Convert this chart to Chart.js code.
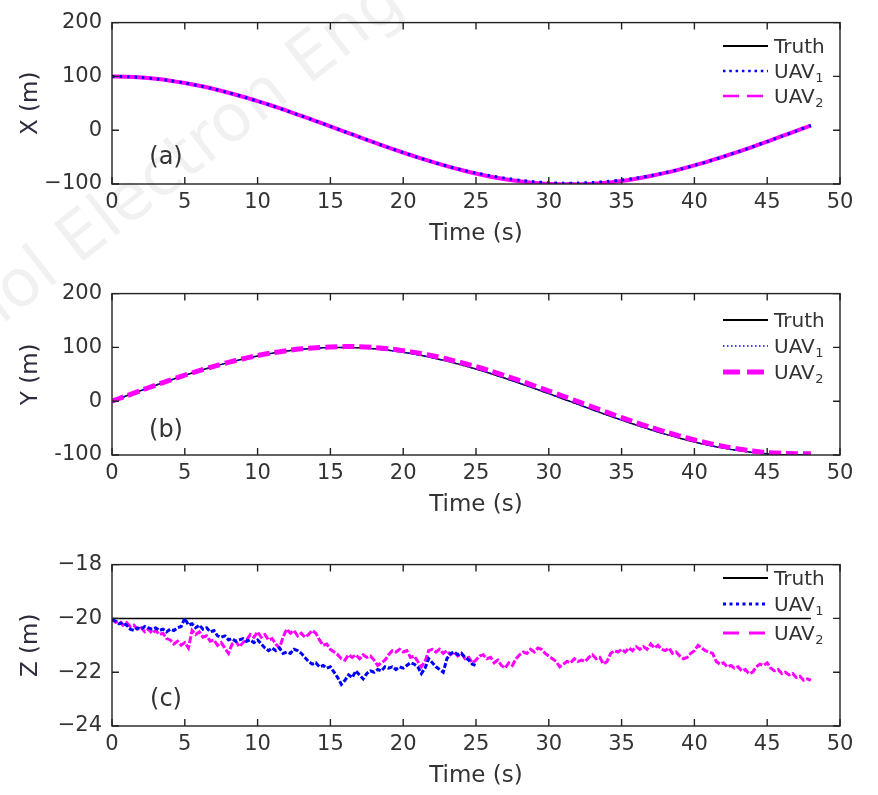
<!DOCTYPE html>
<html>
<head>
<meta charset="utf-8">
<script src="https://cdn.jsdelivr.net/npm/chart.js@4.4.1/dist/chart.umd.min.js"></script>
<style>
  html,body{margin:0;padding:0;background:#fff;overflow:hidden;}
  #wrap{position:relative;width:878px;height:795px;overflow:hidden;}
  canvas{position:absolute;left:0;}
  #wm{position:absolute;left:-55px;top:292px;font-family:"DejaVu Sans";font-size:66px;color:rgba(0,0,0,0.055);
      transform-origin:0 0;transform:rotate(-38deg);white-space:nowrap;}
</style>
</head>
<body>
<div id="wrap">
  <div id="wm">nol Electron Eng</div>
  <canvas id="ca" width="878" height="272" style="top:0px"></canvas>
  <canvas id="cb" width="878" height="272" style="top:271px"></canvas>
  <canvas id="cc" width="878" height="272" style="top:542px"></canvas>
</div>
<script>
// ---------------- data ----------------
const T = [0,1,2,3,4,5,6,7,8,9,10,11,12,13,14,15,16,17,18,19,20,21,22,23,24,25,26,27,28,29,30,31,32,33,34,35,36,37,38,39,40,41,42,43,44,45,46,47,48];

const xTruth = [100,99.5,98.0,95.5,92.1,87.8,82.5,76.5,69.7,62.2,54.0,45.4,36.2,26.7,17.0,7.1,-2.9,-12.9,-22.7,-32.4,-41.6,-50.5,-58.9,-66.6,-73.7,-80.1,-85.7,-90.4,-94.2,-97.1,-99.0,-99.9,-99.8,-98.7,-96.7,-93.6,-89.7,-84.8,-79.1,-72.6,-65.4,-57.6,-49.0,-40.1,-30.8,-21.1,-11.2,-1.2,8.7];
const xUav1  = [100,99.5,98.0,95.5,92.1,87.8,82.5,76.5,69.7,62.2,54.0,45.4,36.2,26.7,17.0,7.1,-2.9,-12.9,-22.7,-32.4,-41.6,-50.5,-58.9,-66.6,-73.5,-79.6,-84.6,-89.2,-93.0,-95.8,-97.6,-98.4,-98.3,-97.3,-95.4,-92.6,-89.0,-84.5,-79.0,-72.6,-65.4,-57.6,-49.0,-40.1,-30.8,-21.1,-11.2,-1.2,8.9];
const xUav2  = [100,99.5,98.0,95.5,92.1,87.8,82.5,76.5,69.7,62.2,54.0,45.4,36.2,26.7,17.0,7.1,-2.9,-12.9,-22.7,-32.4,-41.6,-50.5,-58.9,-66.8,-74.0,-80.6,-86.4,-91.2,-95.0,-98.0,-99.9,-100.8,-100.7,-99.6,-97.5,-94.3,-90.2,-85.1,-79.3,-72.7,-65.4,-57.6,-49.0,-40.1,-30.8,-21.1,-11.2,-1.2,8.5];

const yTruth = [0,10.0,19.9,29.6,38.9,47.9,56.5,64.4,71.7,78.3,84.1,89.1,93.2,96.4,98.5,99.7,100.0,99.2,97.4,94.6,90.9,86.3,80.8,74.6,67.5,59.8,51.6,42.7,33.5,23.9,14.1,4.2,-5.8,-15.8,-25.6,-35.1,-44.3,-53.0,-61.2,-68.8,-75.7,-81.8,-87.2,-91.6,-95.2,-97.8,-99.4,-100.0,-99.6];
const yUav1  = [0,10.0,19.9,29.6,38.9,47.9,56.5,64.4,71.7,78.3,84.1,89.1,93.2,96.4,98.5,99.7,100.0,99.2,97.4,94.6,90.9,86.3,80.8,74.4,67.3,59.6,51.4,42.5,33.3,23.7,13.9,4.0,-6.0,-16.0,-25.8,-35.3,-44.5,-53.2,-61.4,-69.0,-75.9,-82.0,-87.4,-91.8,-95.4,-98.0,-99.6,-100.0,-99.8];
const yUav2  = [0,10.1,20.1,29.9,39.3,48.3,56.9,64.9,72.3,78.9,84.8,89.9,94.0,97.3,99.5,100.8,101.5,101.3,99.8,97.4,94.0,89.8,84.5,78.4,71.6,64.2,56.0,47.2,38.2,28.7,19.0,9.2,-0.8,-10.8,-20.8,-30.4,-39.8,-48.6,-57.0,-64.8,-72.0,-78.4,-84.0,-88.6,-92.4,-95.5,-97.0,-97.6,-97.5];

// Z series as [time, value] pairs
const zUav1 = [[0,-20.05],[0.25,-20.1],[0.5,-20.2],[0.75,-20.15],[1,-20.25],[1.25,-20.4],[1.5,-20.45],[1.75,-20.35],[2,-20.4],[2.25,-20.3],[2.5,-20.35],[2.75,-20.4],[3,-20.35],[3.25,-20.45],[3.5,-20.4],[3.75,-20.5],[4,-20.4],[4.25,-20.45],[4.5,-20.35],[4.75,-20.3],[5,-20.0],[5.25,-20.25],[5.5,-20.2],[5.75,-20.35],[6,-20.25],[6.25,-20.4],[6.5,-20.35],[6.75,-20.5],[7,-20.45],[7.25,-20.65],[7.5,-20.7],[7.75,-20.65],[8,-20.8],[8.25,-20.75],[8.5,-20.85],[8.75,-20.8],[9,-20.75],[9.25,-20.85],[9.5,-20.8],[9.75,-20.9],[10,-20.8],[10.25,-20.95],[10.5,-21.1],[10.75,-21.2],[11,-21.1],[11.25,-21.2],[11.5,-21.1],[11.75,-21.3],[12,-21.25],[12.25,-21.3],[12.5,-21.15],[12.75,-21.2],[13,-21.3],[13.25,-21.45],[13.5,-21.6],[13.75,-21.7],[14,-21.65],[14.25,-21.8],[14.5,-21.75],[14.75,-21.85],[15,-21.8],[15.25,-22.0],[15.5,-22.2],[15.75,-22.45],[16,-22.3],[16.25,-22.1],[16.5,-22.2],[16.75,-21.95],[17,-22.1],[17.25,-22.25],[17.5,-22.05],[17.75,-21.95],[18,-22.0],[18.25,-21.9],[18.5,-21.95],[18.75,-21.8],[19,-21.85],[19.25,-21.8],[19.5,-21.9],[19.75,-21.8],[20,-21.85],[20.25,-21.75],[20.5,-21.65],[20.75,-21.7],[21,-21.8],[21.25,-22.05],[21.5,-21.85],[21.75,-21.5],[22,-21.65],[22.25,-21.8],[22.5,-21.9],[22.75,-22.0],[23,-21.5],[23.25,-21.3],[23.5,-21.25],[23.75,-21.35],[24,-21.3],[24.25,-21.45],[24.5,-21.55],[24.75,-21.7],[25,-21.75]];

const zUav2 = [[0,-20.05],[0.25,-20.15],[0.5,-20.1],[0.75,-20.25],[1,-20.15],[1.25,-20.3],[1.5,-20.25],[1.75,-20.4],[2,-20.35],[2.25,-20.5],[2.5,-20.4],[2.75,-20.55],[3,-20.45],[3.25,-20.6],[3.5,-20.55],[3.75,-20.75],[4,-20.8],[4.25,-20.95],[4.5,-20.85],[4.75,-21.0],[5,-20.9],[5.25,-21.1],[5.5,-20.45],[5.75,-20.6],[6,-20.5],[6.25,-20.7],[6.5,-20.65],[6.75,-20.85],[7,-20.8],[7.25,-21.0],[7.5,-20.9],[7.75,-21.1],[8,-21.3],[8.25,-20.95],[8.5,-20.85],[8.75,-21.05],[9,-20.9],[9.25,-20.8],[9.5,-20.6],[9.75,-20.7],[10,-20.5],[10.25,-20.7],[10.5,-20.6],[10.75,-20.8],[11,-20.75],[11.25,-20.95],[11.5,-21.1],[11.75,-20.7],[12,-20.4],[12.25,-20.55],[12.5,-20.45],[12.75,-20.65],[13,-20.55],[13.25,-20.7],[13.5,-20.6],[13.75,-20.45],[14,-20.55],[14.25,-20.8],[14.5,-21.0],[14.75,-20.95],[15,-21.15],[15.25,-21.25],[15.5,-21.35],[15.75,-21.5],[16,-21.55],[16.25,-21.35],[16.5,-21.45],[16.75,-21.35],[17,-21.5],[17.25,-21.35],[17.5,-21.45],[17.75,-21.4],[18,-21.55],[18.25,-21.75],[18.5,-21.65],[18.75,-21.55],[19,-21.35],[19.25,-21.2],[19.5,-21.25],[19.75,-21.15],[20,-21.25],[20.25,-21.2],[20.5,-21.45],[20.75,-21.4],[21,-21.6],[21.25,-21.8],[21.5,-21.6],[21.75,-21.2],[22,-21.15],[22.25,-21.25],[22.5,-21.15],[22.75,-21.3],[23,-21.2],[23.25,-21.35],[23.5,-21.25],[23.75,-21.4],[24,-21.3],[24.25,-21.5],[24.5,-21.45],[24.75,-21.65],[25,-21.55],[25.25,-21.4],[25.5,-21.35],[25.75,-21.5],[26,-21.45],[26.25,-21.65],[26.5,-21.55],[26.75,-21.75],[27,-21.85],[27.25,-21.65],[27.5,-21.75],[27.75,-21.5],[28,-21.35],[28.25,-21.25],[28.5,-21.3],[28.75,-21.15],[29,-21.25],[29.25,-21.1],[29.5,-21.15],[29.75,-21.3],[30,-21.4],[30.25,-21.5],[30.5,-21.6],[30.75,-21.8],[31,-21.7],[31.25,-21.6],[31.5,-21.65],[31.75,-21.5],[32,-21.6],[32.25,-21.55],[32.5,-21.6],[32.75,-21.45],[33,-21.35],[33.25,-21.5],[33.5,-21.45],[33.75,-21.7],[34,-21.6],[34.25,-21.3],[34.5,-21.2],[34.75,-21.25],[35,-21.15],[35.25,-21.25],[35.5,-21.1],[35.75,-21.2],[36,-21.05],[36.25,-21.15],[36.5,-21.05],[36.75,-21.15],[37,-20.95],[37.25,-21.1],[37.5,-21.0],[37.75,-21.15],[38,-21.2],[38.25,-21.1],[38.5,-21.3],[38.75,-21.25],[39,-21.4],[39.25,-21.5],[39.5,-21.45],[39.75,-21.3],[40,-21.2],[40.25,-21.0],[40.5,-21.1],[40.75,-21.2],[41,-21.25],[41.25,-21.3],[41.5,-21.6],[41.75,-21.7],[42,-21.65],[42.25,-21.8],[42.5,-21.75],[42.75,-21.85],[43,-21.8],[43.25,-21.95],[43.5,-21.9],[43.75,-22.05],[44,-22.0],[44.25,-21.8],[44.5,-21.7],[44.75,-21.75],[45,-21.65],[45.25,-21.85],[45.5,-21.95],[45.75,-21.9],[46,-22.05],[46.25,-22.0],[46.5,-22.1],[46.75,-22.05],[47,-22.2],[47.25,-22.15],[47.5,-22.3],[47.75,-22.25],[48,-22.3]];

const zTruth = [[0,-20],[48,-20]];

const seriesNames = ['Truth','UAV','UAV'];
const seriesSubs = ['', '1', '2'];
const xTitle = 'Time (s)';

// ---------------- helpers ----------------
Chart.defaults.font.family = '"DejaVu Sans", sans-serif';
const TXT = '#333';
const MAG = '#ff00ff', BLU = '#0000ff';

function pts(ts, vs){ return ts.map((t,i)=>({x:t, y:vs[i]})); }
function pairs(a){ return a.map(p=>({x:p[0], y:p[1]})); }

const panelPlugin = {
  id:'panel',
  afterDraw(chart, args, o){
    const ctx = chart.ctx;
    const {left,right,top,bottom} = chart.chartArea;
    const xs = chart.scales.x, ys = chart.scales.y;
    ctx.save();
    ctx.strokeStyle = '#222'; ctx.lineWidth = 1.4; ctx.setLineDash([]);
    ctx.strokeRect(left, top, right-left, bottom-top);
    const L = 7;
    ctx.beginPath();
    xs.ticks.forEach(t=>{ const p = xs.getPixelForValue(t.value);
      ctx.moveTo(p,bottom); ctx.lineTo(p,bottom-L); ctx.moveTo(p,top); ctx.lineTo(p,top+L); });
    ys.ticks.forEach(t=>{ const p = ys.getPixelForValue(t.value);
      ctx.moveTo(left,p); ctx.lineTo(left+L,p); ctx.moveTo(right,p); ctx.lineTo(right-L,p); });
    ctx.stroke();
    ctx.fillStyle = TXT; ctx.font = '24px "DejaVu Sans"';
    ctx.textAlign = 'center'; ctx.textBaseline = 'middle';
    ctx.fillText(o.label, left + 54, bottom - o.labelDy);
    o.legend.forEach((e,i)=>{
      const y = o.rows[i];
      ctx.beginPath();
      ctx.strokeStyle = e.color; ctx.lineWidth = e.width; ctx.setLineDash(e.dash);
      ctx.moveTo(o.lx0, y); ctx.lineTo(o.lx1, y); ctx.stroke();
      ctx.setLineDash([]);
      ctx.fillStyle = TXT; ctx.textAlign = 'left'; ctx.textBaseline = 'middle';
      ctx.font = '20px "DejaVu Sans"';
      ctx.fillText(seriesNames[i], o.tx, y + 2);
      if (seriesSubs[i]) {
        const w = ctx.measureText(seriesNames[i]).width;
        ctx.font = '13px "DejaVu Sans"';
        ctx.fillText(seriesSubs[i], o.tx + w + 0.5, y + 8);
      }
    });
    ctx.restore();
  }
};

function makeChart(id, datasets, yCfg, panelOpts){
  return new Chart(document.getElementById(id), {
    type:'line',
    data:{datasets},
    plugins:[panelPlugin],
    options:{
      responsive:false, animation:false,
      layout:{padding:{top:19,right:38,left:0,bottom:0}},
      elements:{point:{radius:0}, line:{tension:0}},
      plugins:{legend:{display:false}, tooltip:{enabled:false}, panel:panelOpts},
      scales:{
        x:{type:'linear', min:0, max:50,
           ticks:{stepSize:5, color:TXT, font:{size:21}, padding:6, maxRotation:0, autoSkip:false},
           grid:{display:false, drawTicks:false}, border:{display:false},
           title:{display:true, text:xTitle, color:TXT, font:{size:23}, padding:{top:0,bottom:24}},
           afterFit(s){ s.height = 88; }},
        y:{type:'linear', min:yCfg.min, max:yCfg.max,
           ticks:{stepSize:yCfg.step, color:TXT, font:{size:21}, padding:10,
                  callback:(v)=> v<0 ? yCfg.minus + Math.abs(v) : String(v)},
           grid:{display:false, drawTicks:false}, border:{display:false},
           title:{display:true, text:yCfg.title, color:'#2c2c3c', font:{size:23}, padding:{top:17,bottom:0}},
           afterFit(s){ s.width = 112; }}
      }
    }
  });
}

// Panel (a)
makeChart('ca', [
  {data:pts(T,xUav1), borderColor:BLU, borderWidth:3, borderDash:[2.5,5], order:0, tension:0.3},
  {data:pts(T,xUav2), borderColor:MAG, borderWidth:4, borderDash:[], order:1, tension:0.3},
  {data:pts(T,xTruth), borderColor:'#000', borderWidth:1.5, order:2, tension:0.3}
], {min:-100,max:200,step:100,title:'X (m)',minus:'\u2212'},
{label:'(a)', labelDy:26, rows:[46,71,96], lx0:723, lx1:768, tx:774,
 legend:[{color:'#000',width:2,dash:[]},{color:BLU,width:2.5,dash:[2.5,3.8]},{color:MAG,width:2.5,dash:[16,8]}]});

// Panel (b)
makeChart('cb', [
  {data:pts(T,yUav2), borderColor:MAG, borderWidth:5, borderDash:[12,5], order:0, tension:0.3},
  {data:pts(T,yUav1), borderColor:BLU, borderWidth:1.5, borderDash:[1.5,2.5], order:1, tension:0.3},
  {data:pts(T,yTruth), borderColor:'#000', borderWidth:1.5, order:2, tension:0.3}
], {min:-100,max:200,step:100,title:'Y (m)',minus:'-'},
{label:'(b)', labelDy:24, rows:[49,75,101], lx0:723, lx1:768, tx:774,
 legend:[{color:'#000',width:2,dash:[]},{color:BLU,width:1.5,dash:[1.5,2.5]},{color:MAG,width:5,dash:[17,7]}]});

// Panel (c)
makeChart('cc', [
  {data:pairs(zUav1), borderColor:BLU, borderWidth:3, borderDash:[5,2], order:0},
  {data:pairs(zUav2), borderColor:MAG, borderWidth:3, borderDash:[7,2], order:1},
  {data:pairs(zTruth), borderColor:'#000', borderWidth:1.5, order:2}
], {min:-24,max:-18,step:2,title:'Z (m)',minus:'\u2212'},
{label:'(c)', labelDy:26, rows:[36,62,91], lx0:723, lx1:768, tx:774,
 legend:[{color:'#000',width:2,dash:[]},{color:BLU,width:3,dash:[3,3.5]},{color:MAG,width:3,dash:[16,10]}]});
</script>
</body>
</html>
